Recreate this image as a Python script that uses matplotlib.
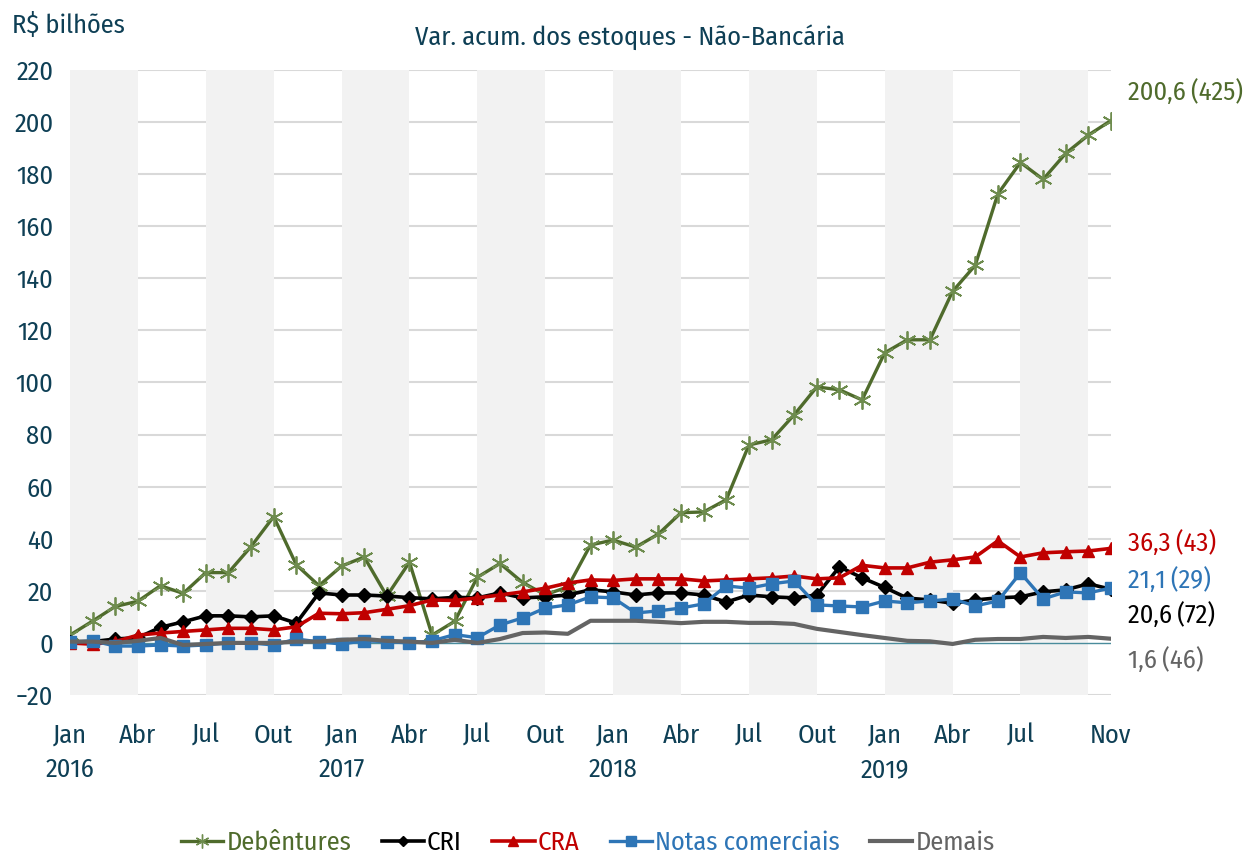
import numpy as np
import matplotlib
matplotlib.use("Agg")
import matplotlib.pyplot as plt
from matplotlib.lines import Line2D
from matplotlib import font_manager as fm

# pick a condensed humanist sans that is installed
font_choice = "DejaVu Sans"
for cand in ["Fira Sans Condensed", "Roboto Condensed", "Asap Condensed",
             "IBM Plex Sans Condensed", "Open Sans Condensed"]:
    try:
        fm.findfont(fm.FontProperties(family=cand), fallback_to_default=False)
        font_choice = cand
        break
    except Exception:
        pass
plt.rcParams['font.family'] = [font_choice, 'DejaVu Sans']

# ---------------- data ----------------
months_pt = ["Jan", "Fev", "Mar", "Abr", "Mai", "Jun", "Jul", "Ago", "Set", "Out", "Nov", "Dez"]
years = [2016, 2017, 2018, 2019]
n_months = 47  # Jan 2016 .. Nov 2019

debentures = [3, 8.4, 14, 16, 22, 19, 27, 27, 37, 48.5, 30, 22,
              29.5, 33, 18, 31, 3, 8.3, 25.2, 30.5, 23.2, 18.5, 21.5, 37.6,
              39.5, 36.8, 41.8, 50, 50.3, 55, 76, 78, 87.6, 98.3, 97.2, 93.3,
              111.4, 116.4, 116.4, 135, 145, 172.4, 184.5, 178, 188, 195, 200.6]

cri = [0.4, 0.5, 1.5, 2.0, 6.0, 8.1, 10.4, 10.4, 10.0, 10.4, 7.6, 19.2,
       18.4, 18.4, 18.0, 17.4, 16.9, 17.5, 17.3, 19.2, 17.3, 17.7, 18.4, 20.4,
       19.6, 18.4, 19.2, 19.2, 18.4, 15.7, 18.4, 17.7, 17.3, 18.4, 29.2, 25.0,
       21.3, 17.2, 16.5, 15.2, 16.5, 17.3, 17.7, 19.6, 20.4, 22.7, 20.6]

cra = [0.0, -0.5, 0.5, 3.0, 3.8, 4.4, 5.0, 5.6, 5.6, 5.0, 6.2, 11.4,
       11.2, 11.6, 12.9, 14.3, 16.5, 16.3, 17.3, 18.4, 19.6, 21.0, 23.0, 24.2,
       24.0, 24.6, 24.6, 24.6, 23.8, 24.2, 24.6, 25.0, 25.7, 24.6, 25.0, 29.8,
       28.8, 28.8, 31.0, 31.9, 33.0, 39.2, 33.0, 34.6, 35.0, 35.3, 36.3]

notas = [0.3, 0.8, -1.2, -1.2, -0.8, -1.2, -0.8, 0.0, 0.0, -0.8, 1.5, 0.4,
         -0.4, 0.8, 0.5, 0.0, 0.8, 3.2, 2.0, 6.9, 9.6, 13.4, 14.6, 17.7,
         17.3, 11.5, 12.3, 13.4, 15.0, 21.9, 21.0, 22.7, 23.8, 14.6, 14.2, 13.8,
         16.1, 15.4, 16.1, 16.9, 14.2, 16.1, 26.9, 16.9, 19.6, 19.2, 21.1]

demais = [0.5, 0.5, 0.0, 0.8, 1.9, -0.8, -0.4, 0.0, 0.0, 0.0, 0.5, 0.5,
          1.2, 1.5, 0.8, 0.5, 0.0, 1.2, 0.0, 1.5, 3.8, 4.0, 3.5, 8.5,
          8.5, 8.5, 8.1, 7.6, 8.1, 8.1, 7.7, 7.7, 7.3, 5.4, 4.2, 3.0,
          1.9, 0.8, 0.6, -0.4, 1.2, 1.5, 1.5, 2.3, 1.9, 2.3, 1.6]

series_names = ["Debêntures", "CRI", "CRA", "Notas comerciais", "Demais"]
end_labels = ["200,6\u2009(425)", "36,3\u2009(43)", "21,1\u2009(29)", "20,6\u2009(72)", "1,6\u2009(46)"]

# ---------------- style ----------------
c_green = "#4F6B2C"
c_black = "#000000"
c_red = "#C00000"
c_blue = "#2E75B6"
c_gray = "#646464"
c_text = "#0E3F55"
fs = 19

fig = plt.figure(figsize=(12.6, 8.55), dpi=100)
ax = fig.add_axes([70/1260, 1-695/855, (1111-70)/1260, (695-70)/855])

x = np.arange(n_months)
ax.set_xlim(0, n_months - 1)
ax.set_ylim(-20, 220)

# gridlines
for yv in range(-20, 221, 20):
    if yv == 0:
        continue
    ax.axhline(yv, color="#D9D9D9", lw=1.5, zorder=0.5)
# shaded quarters
for s in range(0, n_months - 1, 6):
    ax.axvspan(s, min(s + 3, n_months - 1), ymin=0, ymax=1, color="#F2F2F2", lw=0, zorder=1)
ax.axhline(0, color="#4A8C9C", lw=1.0, zorder=1.5)

ax.plot(x, debentures, color=c_green, lw=2.4, marker=(6, 2, 0), ms=13, mec="#6E8C4E",
        mew=1.3, zorder=3, label=series_names[0])
ax.plot(x, cri, color=c_black, lw=2.6, marker="D", ms=7.5, zorder=4, label=series_names[1])
ax.plot(x, cra, color=c_red, lw=2.6, marker="^", ms=8.5, zorder=5, label=series_names[2])
ax.plot(x, notas, color=c_blue, lw=2.4, marker="s", ms=8, zorder=6, label=series_names[3])
ax.plot(x, demais, color=c_gray, lw=3.0, zorder=7, label=series_names[4])

for s in ax.spines.values():
    s.set_visible(False)

ax.set_yticks(range(-20, 221, 20))
ax.tick_params(axis="y", length=0, pad=12, labelsize=fs, labelcolor=c_text)

tick_pos = list(range(0, 43, 3)) + [n_months - 1]
tick_lab = []
for p in tick_pos:
    m = months_pt[p % 12]
    if p % 12 == 0:
        tick_lab.append(f"{m}\n{years[p // 12]}")
    else:
        tick_lab.append(m)
ax.set_xticks(tick_pos)
ax.set_xticklabels(tick_lab, linespacing=1.5)
ax.tick_params(axis="x", length=0, pad=20, labelsize=fs, labelcolor=c_text)

# end labels
end_y = [211.5, 38.4, 24.2, 10.8, -6.5]
end_c = [c_green, c_red, c_blue, c_black, c_gray]
for lab, yv, cc in zip(end_labels, end_y, end_c):
    ax.text(n_months - 1 + 0.75, yv, lab, color=cc, fontsize=fs, va="center", ha="left",
            clip_on=False)

fig.text(630/1260, 1-37/855, "Var. acum. dos estoques - Não-Bancária", ha="center", va="center",
         fontsize=fs, color=c_text)
fig.text(12/1260, 1-25/855, "R$ bilhões", ha="left", va="center", fontsize=fs, color=c_text)

handles = [
    Line2D([], [], color=c_green, lw=2.4, marker=(6, 2, 0), ms=10, mec="#6E8C4E"),
    Line2D([], [], color=c_black, lw=2.6, marker="D", ms=5.5),
    Line2D([], [], color=c_red, lw=2.6, marker="^", ms=6.5),
    Line2D([], [], color=c_blue, lw=2.4, marker="s", ms=6.5),
    Line2D([], [], color=c_gray, lw=3.0),
]
leg = fig.legend(handles, series_names, loc="center", bbox_to_anchor=(588/1260, 1-843/855),
                 ncol=5, frameon=False, fontsize=fs, handlelength=1.6, handletextpad=0.12,
                 columnspacing=1.15, borderaxespad=0)
for t, cc in zip(leg.get_texts(), [c_green, c_black, c_red, c_blue, c_gray]):
    t.set_color(cc)

fig.savefig("out.png", dpi=100)
